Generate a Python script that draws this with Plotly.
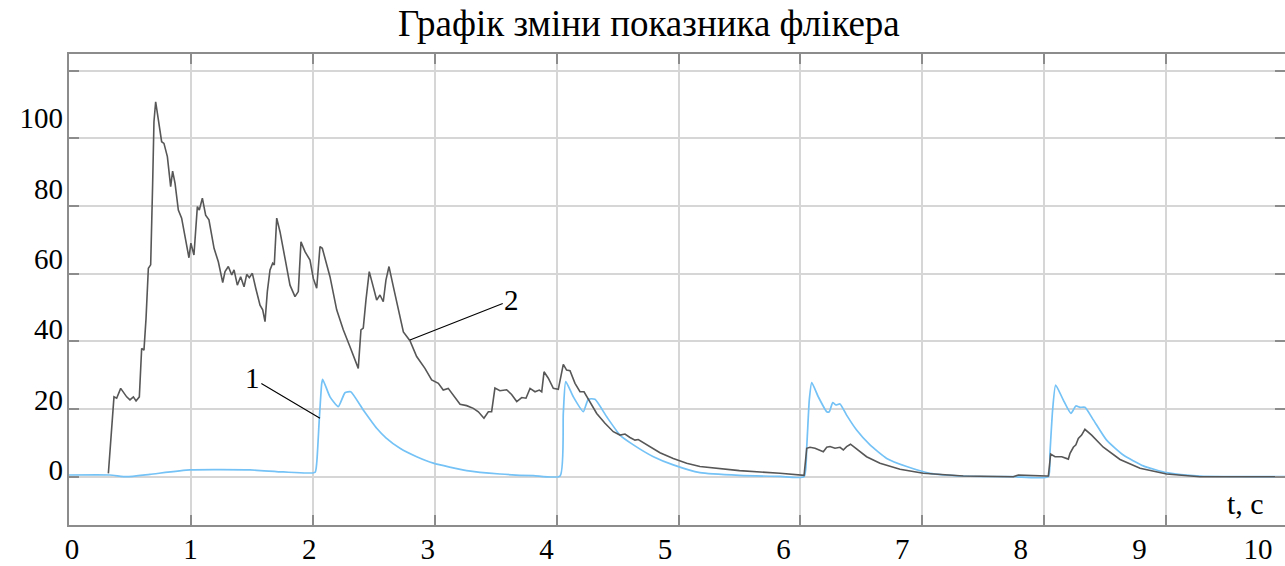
import numpy as np
import plotly.graph_objects as go

# Curve 1 (blue) - flicker index, time in seconds
t1 = [0, 0.336, 0.473, 0.664, 0.993, 1.485, 1.758, 2.018, 2.032, 2.053, 2.073, 2.081,
      2.141, 2.209, 2.264, 2.311, 2.414, 2.524, 2.6, 2.715, 2.852, 2.989, 3.262, 3.535,
      3.809, 4.028, 4.055, 4.075, 4.137, 4.219, 4.26, 4.315, 4.411, 4.52, 4.63, 4.794,
      4.957, 5.176, 5.5, 5.833, 6.03, 6.052, 6.073, 6.093, 6.147, 6.216, 6.237, 6.265,
      6.292, 6.325, 6.379, 6.461, 6.571, 6.708, 6.872, 7.063, 7.336, 7.747, 8.034, 8.047,
      8.069, 8.094, 8.156, 8.219, 8.26, 8.293, 8.334, 8.403, 8.512, 8.649, 8.813, 9.004,
      9.277, 9.975]
v1 = [0.5, 0.5, 0.0, 0.7, 2.0, 2.0, 1.4, 1.3, 4.0, 16.8, 27.5, 28.8,
      23.6, 20.7, 24.8, 25.1, 19.7, 14.3, 11.5, 8.4, 5.9, 4.0, 1.8, 0.8,
      0.3, 0.2, 18.7, 28.1, 23.6, 19.2, 22.9, 22.9, 17.7, 12.3, 9.4, 5.9,
      3.5, 1.2, 0.4, 0.1, 0.0, 8.9, 22.7, 27.8, 23.6, 19.2, 19.2, 21.9,
      21.2, 21.5, 18.2, 13.8, 9.4, 5.4, 3.0, 1.0, 0.2, 0.0, 0.0, 6.9,
      19.7, 27.1, 22.7, 18.7, 20.9, 20.5, 20.5, 16.8, 10.8, 6.4, 3.2, 1.2,
      0.2, 0.0]

# Curve 2 (grey)
t2 = [0.323, 0.336, 0.35, 0.369, 0.391, 0.424, 0.473, 0.5, 0.528, 0.55, 0.577, 0.596,
      0.615, 0.632, 0.651, 0.67, 0.686, 0.697, 0.711, 0.727, 0.76, 0.779, 0.807, 0.834,
      0.85, 0.87, 0.897, 0.924, 0.952, 0.984, 1.0, 1.025, 1.053, 1.069, 1.094, 1.121,
      1.148, 1.19, 1.225, 1.261, 1.28, 1.307, 1.335, 1.354, 1.381, 1.408, 1.436, 1.458,
      1.479, 1.504, 1.532, 1.567, 1.589, 1.608, 1.627, 1.649, 1.671, 1.684, 1.704, 1.731,
      1.772, 1.813, 1.854, 1.881, 1.903, 1.936, 1.977, 2.004, 2.032, 2.059, 2.078, 2.1,
      2.141, 2.196, 2.25, 2.305, 2.346, 2.373, 2.395, 2.414, 2.436, 2.463, 2.496, 2.524,
      2.551, 2.578, 2.6, 2.625, 2.661, 2.702, 2.743, 2.797, 2.852, 2.92, 2.975, 3.03,
      3.07, 3.111, 3.153, 3.208, 3.262, 3.317, 3.358, 3.404, 3.44, 3.467, 3.494, 3.535,
      3.59, 3.631, 3.673, 3.714, 3.749, 3.782, 3.823, 3.858, 3.878, 3.897, 3.932, 3.973,
      4.014, 4.042, 4.055, 4.082, 4.11, 4.151, 4.192, 4.225, 4.274, 4.329, 4.397, 4.465,
      4.52, 4.561, 4.602, 4.643, 4.67, 4.739, 4.848, 4.957, 5.067, 5.176, 5.5, 5.833,
      6.03, 6.052, 6.079, 6.12, 6.161, 6.188, 6.216, 6.243, 6.284, 6.325, 6.352, 6.379,
      6.411, 6.461, 6.543, 6.653, 6.817, 7.008, 7.336, 7.747, 7.788, 8.02, 8.034, 8.053,
      8.089, 8.144, 8.198, 8.212, 8.239, 8.26, 8.28, 8.307, 8.334, 8.389, 8.485, 8.622,
      8.786, 9.004, 9.277, 9.975]
v2 = [1.0, 7.4, 13.3, 23.6, 23.2, 26.1, 23.6, 22.7, 23.6, 22.4, 23.6, 37.9,
      37.4, 46.8, 61.6, 62.6, 86.2, 104.9, 110.8, 106.9, 99.0, 98.5, 94.6, 85.7,
      90.3, 86.7, 78.8, 76.4, 71.4, 64.7, 69.0, 65.5, 79.8, 78.8, 82.3, 77.3,
      75.9, 67.5, 63.5, 57.4, 60.6, 62.1, 59.6, 61.1, 56.6, 59.1, 56.1, 59.8,
      58.8, 60.1, 55.7, 50.7, 49.3, 45.8, 54.7, 61.1, 63.1, 62.6, 76.4, 72.4,
      64.5, 56.6, 53.2, 54.7, 69.4, 66.5, 64.0, 58.6, 55.7, 68.0, 67.5, 64.5,
      59.1, 49.3, 43.4, 38.4, 34.5, 32.0, 43.4, 43.9, 52.2, 60.6, 56.1, 52.2,
      53.7, 51.7, 58.1, 62.1, 56.1, 49.3, 42.8, 40.2, 35.5, 32.0, 28.6, 27.6,
      25.6, 26.1, 24.1, 21.4, 21.0, 20.2, 19.2, 17.3, 19.2, 19.2, 26.2, 25.4,
      25.7, 24.3, 22.2, 23.4, 23.2, 26.1, 25.1, 25.6, 25.1, 31.0, 29.1, 26.1,
      25.8, 31.0, 33.2, 31.5, 31.3, 27.6, 25.1, 25.1, 22.2, 18.7, 15.8, 13.3,
      12.3, 12.6, 11.6, 10.8, 11.0, 9.4, 7.1, 5.4, 4.0, 3.0, 1.8, 1.0,
      0.4, 8.4, 8.7, 8.4, 7.9, 7.4, 8.7, 8.9, 8.4, 8.7, 7.9, 8.9,
      9.6, 8.1, 5.9, 4.0, 2.2, 1.0, 0.2, 0.0, 0.5, 0.2, 0.2, 6.7,
      5.9, 5.9, 5.2, 6.9, 8.7, 9.4, 11.3, 12.3, 14.0, 12.3, 8.7, 5.1,
      2.5, 0.8, 0.0, 0.0]

x_ticks = list(range(0, 11))
x_ticktext = [str(v) for v in x_ticks]
y_ticks = list(range(0, 101, 20))
y_ticktext = [str(v) for v in y_ticks]
y_grid = list(range(0, 121, 20))

SERIF = "Liberation Serif"
W, H = 1285, 566
ML, MR, MT, MB = 69, 0, 54, 41

# main scale: 121.9 px per second, 3.384 px per unit
x_range = [0, (W - ML - MR) / 121.9]
y_range = [-(H - MB - 476.7) / 3.384, (476.7 - MT) / 3.384]
# label scale (labels are spaced a bit tighter than the grid)
xl_range = [(ML - 72) / 118.6, (W - MR - 72) / 118.6]
yl_range = [(470 - (H - MB)) / 3.517, (470 - MT) / 3.517]

fig = go.Figure()
fig.add_trace(go.Scatter(x=t1, y=v1, mode="lines",
                         line=dict(color="#74c2f6", width=1.7, shape="spline", smoothing=0.5),
                         showlegend=False))
fig.add_trace(go.Scatter(x=t2, y=v2, mode="lines",
                         line=dict(color="#575757", width=1.6), showlegend=False))

axis_line = "#8c8c8c"
grid = "#d6d6d6"

fig.update_layout(
    width=W, height=H,
    margin=dict(l=ML, r=MR, t=MT, b=MB, pad=0),
    paper_bgcolor="white", plot_bgcolor="white",
    title=dict(text="Графік зміни показника флікера", x=0.505, xref="container",
               y=1 - 23 / H, yref="container", yanchor="middle", xanchor="center",
               font=dict(family=SERIF, size=37, color="black")),
    xaxis=dict(range=x_range, tickvals=list(range(0, 10)), showticklabels=False,
               ticks="inside", ticklen=10, tickwidth=1.5, tickcolor=axis_line,
               showgrid=True, gridcolor=grid, gridwidth=1.5,
               showline=True, linecolor=axis_line, linewidth=2, mirror="ticks",
               zeroline=False),
    yaxis=dict(range=y_range, tickvals=y_grid, showticklabels=False,
               ticks="inside", ticklen=10, tickwidth=1.5, tickcolor=axis_line,
               showgrid=True, gridcolor=grid, gridwidth=1.5,
               showline=True, linecolor=axis_line, linewidth=2, mirror=False,
               zeroline=False),
    yaxis3=dict(range=y_range, overlaying="y", anchor="x", side="right",
                tickvals=y_grid, showticklabels=False, ticks="inside", ticklen=10,
                tickwidth=1.5, tickcolor=axis_line, showgrid=False, showline=False,
                zeroline=False),
    xaxis2=dict(range=xl_range, overlaying="x", anchor="y", side="bottom",
                tickvals=x_ticks, ticktext=x_ticktext, showgrid=False, showline=False,
                ticks="", zeroline=False, ticklabelstandoff=4,
                tickfont=dict(family=SERIF, size=29, color="black")),
    yaxis2=dict(range=yl_range, overlaying="y", anchor="x", side="left",
                tickvals=y_ticks, ticktext=y_ticktext, showgrid=False, showline=False,
                ticks="", zeroline=False, ticklabelstandoff=5,
                tickfont=dict(family=SERIF, size=29, color="black")),
)

# invisible carrier traces so the label and tick axes are laid out
fig.add_trace(go.Scatter(x=[None], y=[None], xaxis="x2", yaxis="y2",
                         showlegend=False, hoverinfo="skip"))
fig.add_trace(go.Scatter(x=[None], y=[None], xaxis="x", yaxis="y3",
                         showlegend=False, hoverinfo="skip"))

# curve labels with leader lines
curve_labels = [
    dict(text="1", x=2.059, y=17.3, ax=1.504, ay=29.1),
    dict(text="2", x=2.797, y=40.4, ax=3.632, ay=52.2),
]
for lab in curve_labels:
    fig.add_annotation(x=lab["x"], y=lab["y"], ax=lab["ax"], ay=lab["ay"],
                       xref="x", yref="y", axref="x", ayref="y", text=lab["text"],
                       showarrow=True, arrowhead=0, arrowwidth=1.1, arrowcolor="black",
                       standoff=0, font=dict(family=SERIF, size=29, color="black"))

fig.add_annotation(x=9.655, y=-7.8, xref="x", yref="y", text="t, c", showarrow=False,
                   font=dict(family=SERIF, size=30, color="black"))

fig.write_html("out.html")
